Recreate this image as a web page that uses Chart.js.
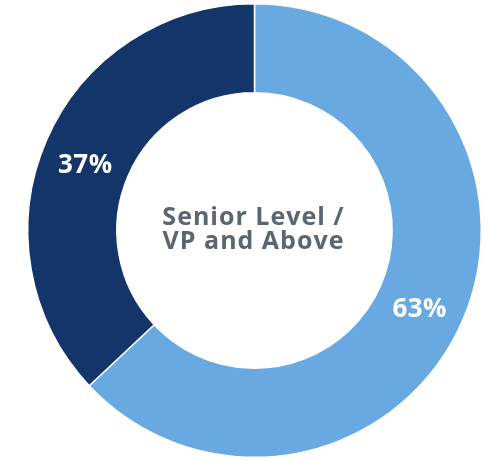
<!DOCTYPE html>
<html>
<head>
<meta charset="utf-8">
<script src="https://cdn.jsdelivr.net/npm/chart.js@4"></script>
<style>
  html, body { margin: 0; padding: 0; background: #fff; }
  #wrap { width: 493px; height: 461px; position: relative; }
</style>
</head>
<body>
<div id="wrap"><canvas id="donut"></canvas></div>
<script>
// datos del gráfico
const labels = ["VP and Above", "Other"];
const values = [63, 37];
const colors = ["#69a9e2", "#133569"];
const centerLines = ["Senior Level /", "VP and Above"];

const FONT = "'Open Sans', Lato, sans-serif";

// etiquetas de porcentaje dentro de cada segmento
const pctLabels = {
  id: "pctLabels",
  afterDatasetsDraw(chart) {
    const ctx = chart.ctx;
    const meta = chart.getDatasetMeta(0);
    ctx.save();
    ctx.fillStyle = "#ffffff";
    ctx.font = "bold 26px " + FONT;
    ctx.letterSpacing = "0.5px";
    ctx.textAlign = "center";
    ctx.textBaseline = "middle";
    meta.data.forEach((arc, i) => {
      const p = arc.tooltipPosition();
      ctx.fillText(values[i] + "%", p.x - 2, p.y + 7);
    });
    ctx.restore();
  }
};

// texto central
const centerText = {
  id: "centerText",
  afterDraw(chart) {
    const ctx = chart.ctx;
    const arc = chart.getDatasetMeta(0).data[0];
    ctx.save();
    ctx.fillStyle = "#5b6670";
    ctx.font = "bold 25px " + FONT;
    ctx.letterSpacing = "1px";
    ctx.textAlign = "center";
    ctx.textBaseline = "middle";
    ctx.fillText(centerLines[0], arc.x - 1, arc.y - 13);
    ctx.fillText(centerLines[1], arc.x - 1, arc.y + 11);
    ctx.restore();
  }
};

new Chart(document.getElementById("donut"), {
  type: "doughnut",
  data: {
    labels: labels,
    datasets: [{
      data: values,
      backgroundColor: colors,
      borderColor: "#ffffff",
      borderWidth: 1.5
    }]
  },
  options: {
    responsive: true,
    maintainAspectRatio: false,
    animation: false,
    cutout: "60.7%",
    layout: { padding: { left: 27, right: 11, top: 3, bottom: 3 } },
    plugins: {
      legend: { display: false },
      tooltip: { enabled: false }
    }
  },
  plugins: [pctLabels, centerText]
});
</script>
</body>
</html>
